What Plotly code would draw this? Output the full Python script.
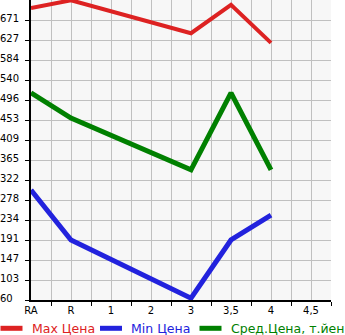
import plotly.graph_objects as go

categories = ["RA", "R", "1", "2", "3", "3,5", "4", "4,5"]
max_price = [697, 714, None, None, 642, 704, 621, None]
min_price = [300, 191, None, None, 64, 191, 245, None]
avg_price = [512, 457, None, None, 344, 512, 344, None]

y_min = 60
y_step = 480 / 11
y_tickvals = [y_min + k * y_step for k in range(15)]
y_ticktext = ["60", "103", "147", "191", "234", "278", "322", "365", "409",
              "453", "496", "540", "584", "627", "671"]

series_names = ["Max Цена", "Min Цена", "Сред.Цена, т.йен"]
series_colors = ["#dd2222", "#2222dd", "#008000"]
series_widths = [4, 5, 5]
series_values = [max_price, min_price, avg_price]

x_idx = list(range(len(categories)))

# plot area geometry in pixels
L, R_, T, B = 31, 14, 0, 35
W, H = 345, 335
PW, PH = W - L - R_, H - T - B


def px_x(px):
    return (px - L) / PW


def px_y(py):
    return (PH + T - py) / PH


fig = go.Figure()
for name, vals, color, w in zip(series_names, series_values, series_colors, series_widths):
    fig.add_trace(go.Scatter(
        x=x_idx, y=vals, mode="lines", name=name, connectgaps=True,
        line=dict(color=color, width=w), showlegend=False,
    ))

# manual legend along the bottom
legend_y = 328.3
for i, (name, color) in enumerate(zip(series_names, series_colors)):
    x0 = i * 99.5
    fig.add_shape(type="line", xref="paper", yref="paper",
                  x0=px_x(x0 + 0.5), x1=px_x(x0 + 22.5),
                  y0=px_y(legend_y), y1=px_y(legend_y),
                  line=dict(color=color, width=5))
    fig.add_annotation(xref="paper", yref="paper", x=px_x(x0 + 29.5), y=px_y(legend_y),
                       xanchor="left", yanchor="middle", showarrow=False,
                       text=name, font=dict(size=12.5, color=color))

fig.update_layout(
    width=W, height=H,
    margin=dict(l=L, r=R_, t=T, b=B, autoexpand=False),
    paper_bgcolor="white", plot_bgcolor="#f7f7f7",
    font=dict(family="DejaVu Sans", size=10, color="black"),
    showlegend=False,
)
fig.update_xaxes(
    range=[0, 7.5], tickvals=x_idx, ticktext=categories, ticks="",
    showgrid=True, gridcolor="#c0c0c0", gridwidth=1,
    showline=True, linecolor="black", linewidth=2, zeroline=False,
    minor=dict(tickvals=[i + 0.5 for i in x_idx], ticks="outside", ticklen=4,
               tickcolor="black", showgrid=True, gridcolor="#c0c0c0", gridwidth=1),
    fixedrange=True,
)
pad = "\u2007"
fig.update_yaxes(
    range=[y_min, y_min + 15 * y_step], tickvals=y_tickvals,
    ticktext=[t + pad * (3 - len(t)) for t in y_ticktext],
    ticks="outside", ticklen=4, tickcolor="black", ticklabelstandoff=4,
    ticklabelshift=-2,
    showgrid=True, gridcolor="#c0c0c0", gridwidth=1,
    showline=True, linecolor="black", linewidth=2, zeroline=False,
    fixedrange=True,
)

fig.write_html("out.html", config={"displayModeBar": False})
